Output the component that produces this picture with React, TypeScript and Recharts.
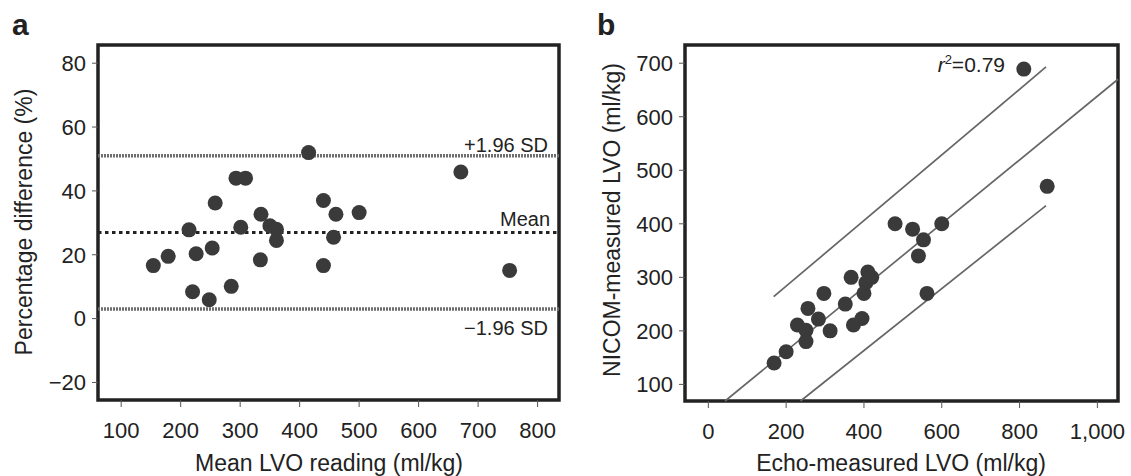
import React from 'react';
import { ScatterChart, Scatter, XAxis, YAxis, ReferenceLine, ReferenceArea } from 'recharts';

const FONT = '"Liberation Sans", Arial, Helvetica, sans-serif';
const INK = '#222222';
const DOT = '#3a3a3a';

// ---------- Panel a (Bland-Altman) ----------
const meanLVO = [154, 179, 214, 226, 220, 248, 253, 258, 285, 293, 309, 301, 335, 334, 350, 361, 361, 415, 440, 440, 461, 457, 500, 671, 753];
const pctDiff = [16.6, 19.5, 27.8, 20.3, 8.4, 5.9, 22.1, 36.2, 10.1, 44, 44, 28.6, 32.7, 18.4, 29.1, 28, 24.5, 52, 37, 16.6, 32.7, 25.5, 33.2, 45.9, 15.1];
const upperLimit = 51;
const meanDifference = 27;
const lowerLimit = 3;
const aXTicks = [100, 200, 300, 400, 500, 600, 700, 800];
const aYTicks = [-20, 0, 20, 40, 60, 80];
const aXDomain = [61, 836];
const aYDomain = [-25.5, 85.7];

// ---------- Panel b (correlation) ----------
const echoLVO = [169, 200, 229, 251, 251, 256, 283, 297, 313, 352, 367, 373, 395, 400, 405, 410, 420, 480, 525, 540, 553, 562, 600, 811, 871];
const nicomLVO = [140, 161, 211, 201, 180, 242, 222, 270, 200, 250, 300, 211, 223, 270, 290, 310, 300, 400, 390, 340, 370, 270, 400, 689, 470];
const fitLine = [{ x: 43, y: 69 }, { x: 1053, y: 670 }];
const upperBand = [{ x: 168, y: 264 }, { x: 868, y: 693 }];
const lowerBand = [{ x: 237, y: 69 }, { x: 868, y: 434 }];
const bXTicks = [0, 200, 400, 600, 800, 1000];
const bYTicks = [100, 200, 300, 400, 500, 600, 700];
const bXDomain = [-60, 1053];
const bYDomain = [69, 734];
const rSquared = '0.79';

const aData = meanLVO.map((x, i) => ({ x, y: pctDiff[i] }));
const bData = echoLVO.map((x, i) => ({ x, y: nicomLVO[i] }));

const fmt = (v: number) => {
  const s = Number(v).toLocaleString('en-US');
  return s.replace('-', '\u2212');
};

const Dot = (p: any) => <circle cx={p.cx} cy={p.cy} r={7.5} fill={DOT} />;

const tickStyle = { fill: INK, fontSize: 22, fontFamily: FONT };

function RefLabel(props: any) {
  const { viewBox, text, dy, inset } = props;
  if (!viewBox) return null;
  const x = viewBox.x + viewBox.width - inset;
  const y = viewBox.y + dy;
  return (
    <text x={x} y={y} textAnchor="end" fill={INK} fontSize={20} fontFamily={FONT}>
      {text}
    </text>
  );
}

export default function App() {
  return (
    <div style={{ position: 'absolute', left: 0, top: 0, width: 1131, height: 476, background: '#fff' }}>
      <div style={{ position: 'absolute', left: 0, top: 0 }}>
        <ScatterChart width={565} height={476} margin={{ top: 45, right: 6, bottom: 46, left: 38 }}>
          <XAxis
            type="number"
            dataKey="x"
            domain={aXDomain}
            ticks={aXTicks}
            allowDataOverflow
            axisLine={false}
            tickLine={{ stroke: '#555' }}
            tickSize={7}
            tickMargin={15}
            height={30}
            tick={tickStyle}
            tickFormatter={fmt}
          />
          <YAxis
            type="number"
            dataKey="y"
            domain={aYDomain}
            ticks={aYTicks}
            allowDataOverflow
            axisLine={false}
            tickLine={{ stroke: '#555' }}
            tickSize={6}
            tickMargin={6}
            width={60}
            tick={tickStyle}
            tickFormatter={fmt}
          />
          <ReferenceLine
            y={upperLimit}
            stroke="#6e6e6e"
            strokeWidth={3.5}
            strokeDasharray="2 1"
            label={<RefLabel text="+1.96 SD" dy={-4} inset={11} />}
          />
          <ReferenceLine
            y={meanDifference}
            stroke={INK}
            strokeWidth={3}
            strokeDasharray="3.5 3.5"
            label={<RefLabel text="Mean" dy={-6} inset={9} />}
          />
          <ReferenceLine
            y={lowerLimit}
            stroke="#6e6e6e"
            strokeWidth={3.5}
            strokeDasharray="2 1"
            label={<RefLabel text={'\u22121.96 SD'} dy={26} inset={11} />}
          />
          <Scatter data={aData} isAnimationActive={false} shape={Dot} />
          <ReferenceArea
            x1={aXDomain[0]}
            x2={aXDomain[1]}
            y1={aYDomain[0]}
            y2={aYDomain[1]}
            fill="none"
            fillOpacity={0}
            stroke={INK}
            strokeWidth={3.5}
            ifOverflow="visible"
          />
        </ScatterChart>
      </div>
      <div style={{ position: 'absolute', left: 565, top: 0 }}>
        <ScatterChart width={566} height={476} margin={{ top: 45, right: 13, bottom: 45, left: 60 }}>
          <XAxis
            type="number"
            dataKey="x"
            domain={bXDomain}
            ticks={bXTicks}
            allowDataOverflow
            axisLine={false}
            tickLine={{ stroke: '#555' }}
            tickSize={7}
            tickMargin={15}
            height={30}
            tick={tickStyle}
            tickFormatter={fmt}
          />
          <YAxis
            type="number"
            dataKey="y"
            domain={bYDomain}
            ticks={bYTicks}
            allowDataOverflow
            axisLine={false}
            tickLine={{ stroke: '#555' }}
            tickSize={6}
            tickMargin={6}
            width={60}
            tick={tickStyle}
            tickFormatter={fmt}
          />
          <ReferenceLine segment={upperBand} stroke="#666" strokeWidth={1.7} ifOverflow="visible" />
          <ReferenceLine segment={fitLine} stroke="#666" strokeWidth={1.7} ifOverflow="visible" />
          <ReferenceLine segment={lowerBand} stroke="#666" strokeWidth={1.7} ifOverflow="visible" />
          <Scatter data={bData} isAnimationActive={false} shape={Dot} />
          <ReferenceArea
            x1={bXDomain[0]}
            x2={bXDomain[1]}
            y1={bYDomain[0]}
            y2={bYDomain[1]}
            fill="none"
            fillOpacity={0}
            stroke={INK}
            strokeWidth={3.5}
            ifOverflow="visible"
          />
        </ScatterChart>
      </div>
      <svg
        width={1131}
        height={476}
        style={{ position: 'absolute', left: 0, top: 0, pointerEvents: 'none' }}
        fontFamily={FONT}
        fill={INK}
      >
        <text x={12} y={35} fontSize={30} fontWeight="bold">a</text>
        <text x={597} y={35} fontSize={30} fontWeight="bold">b</text>
        <text x={329} y={471} fontSize={23} textAnchor="middle">Mean LVO reading (ml/kg)</text>
        <text x={901} y={471} fontSize={23} textAnchor="middle">Echo-measured LVO (ml/kg)</text>
        <text transform="translate(32,222) rotate(-90)" fontSize={23} textAnchor="middle">Percentage difference (%)</text>
        <text transform="translate(620,220) rotate(-90)" fontSize={23} textAnchor="middle">NICOM-measured LVO (ml/kg)</text>
        <text x={1005} y={72} fontSize={21} textAnchor="end">
          <tspan fontStyle="italic">r</tspan>
          <tspan dy={-8} fontSize={13}>2</tspan>
          <tspan dy={8}>={rSquared}</tspan>
        </text>
      </svg>
    </div>
  );
}
